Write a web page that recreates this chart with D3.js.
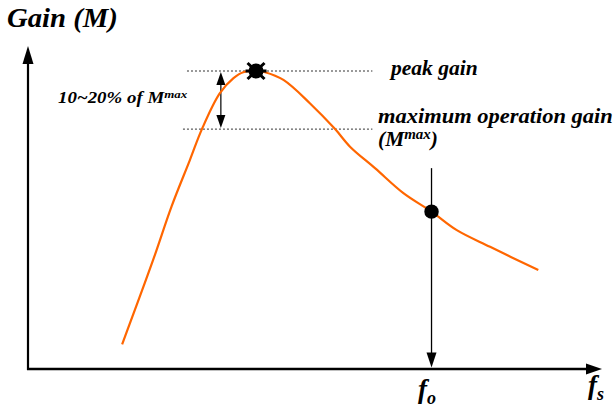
<!DOCTYPE html>
<html>
<head>
<meta charset="utf-8">
<script src="https://cdn.jsdelivr.net/npm/d3@7"></script>
<style>
  body { margin: 0; background: #fff; }
  text { font-family: "Liberation Serif", "Times New Roman", "DejaVu Serif", serif; font-weight: bold; font-style: italic; fill: #000; }
</style>
</head>
<body>
<svg id="chart"></svg>
<script>
// switching frequency (arbitrary units) vs gain M (normalised to peak)
var freq = [1.64, 2.18, 2.50, 2.82, 3.03, 3.34, 3.58, 3.75, 3.99, 4.13, 4.45, 4.91, 5.35, 5.61, 6.05, 6.54, 7.03, 7.47, 8.05, 8.89];
var gain = [0.083, 0.366, 0.545, 0.701, 0.805, 0.925, 0.976, 0.996, 1.0, 0.996, 0.970, 0.892, 0.805, 0.746, 0.673, 0.590, 0.528, 0.466, 0.410, 0.332];

var peakF = 3.99, peakGain = 1.0;
var maxOpGain = 0.805;
var fo = 7.03, foGain = 0.528;

var width = 614, height = 412;

var svg = d3.select("#chart")
    .attr("width", width)
    .attr("height", height);

var x = d3.scaleLinear().domain([0, 10]).range([28, 602]);
var y = d3.scaleLinear().domain([0, 1]).range([369, 71]);

// arrow head: tip at (tx, ty), rotated by angle (degrees)
function arrowHead(tx, ty, angle, len, half) {
    return svg.append("path")
        .attr("d", "M0,0L" + (-len) + "," + (-half) + "L" + (-len) + "," + half + "Z")
        .attr("transform", "translate(" + tx + "," + ty + ") rotate(" + angle + ")")
        .attr("fill", "#000");
}

// stretch a label horizontally so it spans the same width as the original
function fitWidth(sel, x0, target) {
    var w = sel.node().getBBox().width;
    var sx = target / w;
    sel.attr("transform", "translate(" + x0 + ",0) scale(" + sx + ",1) translate(" + (-x0) + ",0)");
}

// axes
svg.append("line")
    .attr("x1", x(0)).attr("y1", y(0) + 1)
    .attr("x2", x(0)).attr("y2", y(1.03))
    .attr("stroke", "#000").attr("stroke-width", 2.2);
arrowHead(x(0), y(1.084), -90, 18, 5.5);

svg.append("line")
    .attr("x1", x(0) - 1).attr("y1", y(0))
    .attr("x2", x(9.8)).attr("y2", y(0))
    .attr("stroke", "#000").attr("stroke-width", 2.6);
arrowHead(x(10), y(0), 0, 16, 5.5);

// dotted reference lines
svg.append("line")
    .attr("x1", x(2.77)).attr("x2", x(6.0))
    .attr("y1", y(peakGain)).attr("y2", y(peakGain))
    .attr("stroke", "#333").attr("stroke-width", 1)
    .attr("stroke-dasharray", "2,2");
svg.append("line")
    .attr("x1", x(2.70)).attr("x2", x(6.0))
    .attr("y1", y(maxOpGain)).attr("y2", y(maxOpGain))
    .attr("stroke", "#333").attr("stroke-width", 1)
    .attr("stroke-dasharray", "2,2");

// double arrow between peak and max operation gain
var da = x(3.36);
svg.append("line")
    .attr("x1", da).attr("x2", da)
    .attr("y1", y(peakGain) + 8).attr("y2", y(maxOpGain) - 8)
    .attr("stroke", "#000").attr("stroke-width", 1.2);
arrowHead(da, y(peakGain) + 1, -90, 13, 4.5);
arrowHead(da, y(maxOpGain) - 1, 90, 13, 4.5);

// fo vertical line
svg.append("line")
    .attr("x1", x(fo)).attr("x2", x(fo))
    .attr("y1", y(0.674)).attr("y2", y(0.05))
    .attr("stroke", "#000").attr("stroke-width", 1.3);
arrowHead(x(fo), y(0.005), 90, 15, 5);

// gain curve
var line = d3.line()
    .x(function (d, i) { return x(freq[i]); })
    .y(function (d, i) { return y(gain[i]); })
    .curve(d3.curveCatmullRom.alpha(0.5));

svg.append("path")
    .datum(freq)
    .attr("d", line)
    .attr("fill", "none")
    .attr("stroke", "#ff6600")
    .attr("stroke-width", 2.2);

// peak marker
var pk = svg.append("g")
    .attr("transform", "translate(" + (x(peakF) - 1) + "," + y(peakGain) + ")");
pk.append("circle").attr("r", 7.5).attr("fill", "#000");
pk.append("path")
    .attr("d", "M-8.5,-8L8.5,8M-8.5,8L8.5,-8M-10.5,0L10.5,0")
    .attr("stroke", "#000").attr("stroke-width", 3);

// operating point
svg.append("circle")
    .attr("cx", x(fo)).attr("cy", y(foGain))
    .attr("r", 7.2).attr("fill", "#000");

// labels
var tg = svg.append("text")
    .attr("x", 7).attr("y", 27)
    .style("font-size", "28px")
    .text("Gain (M)");
fitWidth(tg, 7, 111);

var t1 = svg.append("text").attr("x", 58).attr("y", 103).style("font-size", "16px");
t1.append("tspan").text("10~20% of M");
t1.append("tspan").attr("dy", -5).style("font-size", "11px").text("max");
fitWidth(t1, 58, 130);

var tp = svg.append("text")
    .attr("x", 391).attr("y", 75)
    .style("font-size", "20px")
    .text("peak gain");
fitWidth(tp, 391, 89);

var tm = svg.append("text")
    .attr("x", 378).attr("y", 123)
    .style("font-size", "20px")
    .text("maximum operation gain");
fitWidth(tm, 378, 235);

var t2 = svg.append("text").attr("x", 378).attr("y", 146).style("font-size", "20px");
t2.append("tspan").text("(M");
t2.append("tspan").attr("dy", -7).style("font-size", "14px").text("max");
t2.append("tspan").attr("dy", 7).text(")");
fitWidth(t2, 378, 60);

var t3 = svg.append("text").attr("x", 418).attr("y", 398).style("font-size", "27px");
t3.append("tspan").text("f");
t3.append("tspan").attr("dy", 6).style("font-size", "18px").text("o");

var t4 = svg.append("text").attr("x", 588).attr("y", 394).style("font-size", "27px");
t4.append("tspan").text("f");
t4.append("tspan").attr("dy", 6).style("font-size", "18px").text("s");
</script>
</body>
</html>
